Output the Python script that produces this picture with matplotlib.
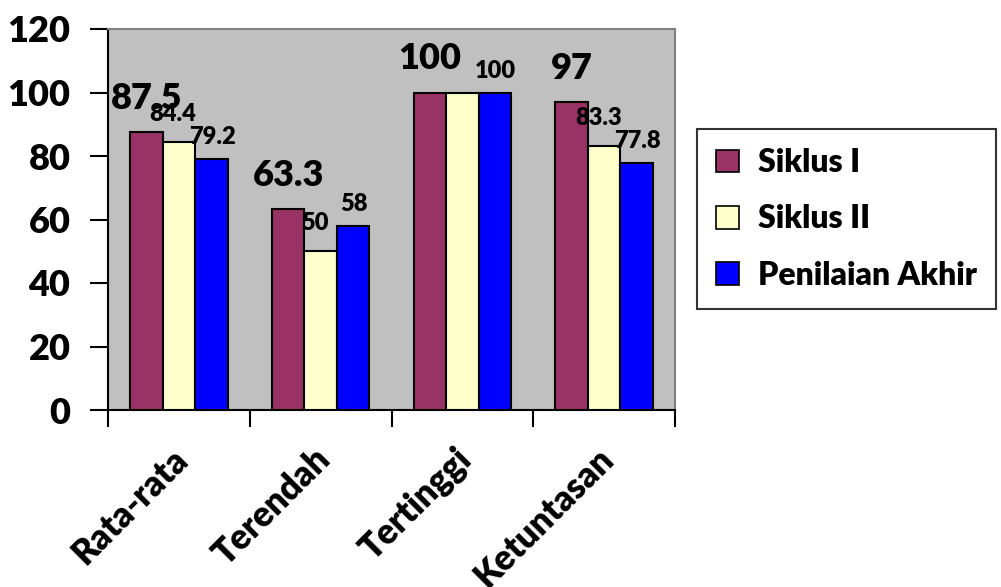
import numpy as np
import matplotlib
matplotlib.use("Agg")
import matplotlib.pyplot as plt
from matplotlib.patches import Patch
from matplotlib.transforms import offset_copy

plt.rcParams['font.family'] = ['Lato', 'DejaVu Sans']
plt.rcParams['font.weight'] = 'heavy'

categories = ['Rata-rata', 'Terendah', 'Tertinggi', 'Ketuntasan']
series_names = ['Siklus I', 'Siklus II', 'Penilaian Akhir']
siklus1 = [87.5, 63.3, 100, 97]
siklus2 = [84.4, 50, 100, 83.3]
akhir = [79.2, 58, 100, 77.8]
yticks = [0, 20, 40, 60, 80, 100, 120]

colors = ['#993366', '#FFFFCC', '#0000FF']
# label styling per series: font size, x shift (px), y shift above bar top (px)
label_style = [(26, 0, 34), (17, -6, 28), (17, 1, 22)]
hidden_labels = {(1, 2)}  # Siklus II label on Tertinggi is not shown
W = 'heavy'

fig = plt.figure(figsize=(10.01, 5.87), dpi=100)
ax = fig.add_axes([108 / 1001, 1 - 410 / 587, 567 / 1001, 381 / 587])
ax.set_facecolor('#C0C0C0')

x = np.arange(len(categories))
w = 0.229
data = [siklus1, siklus2, akhir]
for i, vals in enumerate(data):
    pos = x + (i - 1) * w
    ax.bar(pos, vals, width=w, color=colors[i], edgecolor='black',
           linewidth=1.5, zorder=3)
    fs, dx, dy = label_style[i]
    for j, v in enumerate(vals):
        if (i, j) in hidden_labels:
            continue
        ax.annotate(f'{v:g}', xy=(pos[j], v), xytext=(dx * 0.72, dy * 0.72),
                    textcoords='offset points', ha='center', va='center',
                    fontsize=fs, fontweight=W, zorder=4)

ax.set_xlim(-0.5, len(categories) - 0.5)
ax.set_ylim(0, 120)
ax.set_yticks(yticks)
ax.tick_params(axis='y', labelsize=26, length=13, width=1.5, direction='out', pad=14)
ax.set_xticks(np.arange(len(categories) + 1) - 0.5)
ax.set_xticklabels([])
ax.tick_params(axis='x', length=12, width=1.5, direction='out')

for lab in ax.get_yticklabels():
    lab.set_fontweight(W)

ax.spines['left'].set_linewidth(1.5)
ax.spines['bottom'].set_linewidth(1.5)
ax.spines['top'].set_color('#808080')
ax.spines['right'].set_color('#808080')
ax.spines['top'].set_linewidth(1.5)
ax.spines['right'].set_linewidth(1.5)

# rotated category names below the axis
for j, name in enumerate(categories):
    tr = offset_copy(ax.get_xaxis_transform(), fig=fig, x=4 * 0.72, y=-44 * 0.72,
                     units='points')
    ax.text(j, 0, name, transform=tr, rotation=45, rotation_mode='anchor',
            ha='right', va='center', fontsize=25, fontweight=W)

handles = [Patch(facecolor=c, edgecolor='black', linewidth=1.2) for c in colors]
leg = fig.legend(handles, series_names, loc='center left',
                 bbox_to_anchor=(697 / 1001, 1 - 219 / 587),
                 prop={'size': 23, 'weight': W}, frameon=True,
                 fancybox=False, edgecolor='black', handlelength=0.7,
                 handleheight=0.7, handletextpad=0.6, labelspacing=0.85,
                 borderpad=0.6, borderaxespad=0)
leg.get_frame().set_linewidth(1.5)

fig.savefig('out.png', dpi=100)
